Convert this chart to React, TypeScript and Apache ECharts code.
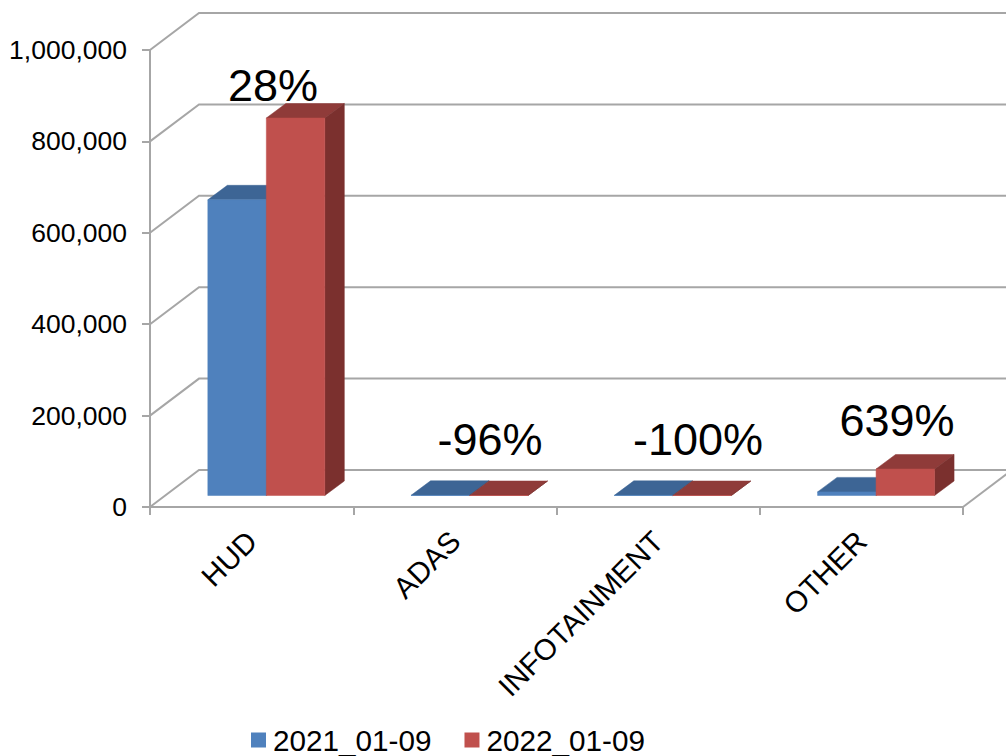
import React, { useEffect, useRef } from "react";
import * as echarts from "echarts";

const categories = ["HUD", "ADAS", "INFOTAINMENT", "OTHER"];
const seriesNames = ["2021_01-09", "2022_01-09"];
const values2021 = [647000, 400, 300, 7900];
const values2022 = [826000, 16, 0, 58000];
const tickValues = [0, 200000, 400000, 600000, 800000, 1000000];
const annotations = [
  { text: "28%", x: 273, y: 85 },
  { text: "-96%", x: 490, y: 439 },
  { text: "-100%", x: 698, y: 439 },
  { text: "639%", x: 897, y: 420 },
];

const FONT = '"Liberation Sans", Arial, sans-serif';
const GRID = "#a6a6a6";
const WALL_DX = 49;
const WALL_DY = 37;
const BAR_DX = 19.5;
const BAR_DY = 14.5;
const BASE_LIFT = 11.5;
const BAR_SHIFT = 14.7;
const BAR_WIDTH = 58.5;

const barRenderer = (side: number, front: string, top: string, right: string) => (_: any, api: any) => {
  const c = api.coord([api.value(0), api.value(1)]);
  const z = api.coord([api.value(0), 0]);
  const x0 = c[0] + BAR_SHIFT + (side < 0 ? -BAR_WIDTH : 0);
  const x1 = x0 + BAR_WIDTH;
  const yb = z[1] - BASE_LIFT;
  const yt = c[1] - BASE_LIFT;
  const face = (points: number[][], fill: string) => ({
    type: "polygon",
    shape: { points },
    style: { fill, stroke: fill, lineWidth: 0.5 },
  });
  return {
    type: "group",
    children: [
      face([[x0, yt], [x0 + BAR_DX, yt - BAR_DY], [x1 + BAR_DX, yt - BAR_DY], [x1, yt]], top),
      face([[x1, yt], [x1 + BAR_DX, yt - BAR_DY], [x1 + BAR_DX, yb - BAR_DY], [x1, yb]], right),
      face([[x0, yt], [x1, yt], [x1, yb], [x0, yb]], front),
    ],
  };
};

const wallRenderer = (_: any, api: any) => {
  const v = api.value(0);
  const band = api.size([1, 0])[0];
  const left = api.coord([0, v]);
  const lx = left[0] - band / 2;
  const y = left[1];
  const rx = api.coord([categories.length - 1, v])[0] + band / 2;
  const line = { stroke: GRID, lineWidth: 2, fill: "none" };
  const children: any[] = [
    {
      type: "polyline",
      shape: { points: [[lx, y], [lx + WALL_DX, y - WALL_DY], [rx + WALL_DX, y - WALL_DY]] },
      style: line,
    },
  ];
  if (v === 0) {
    children.push({
      type: "line",
      shape: { x1: rx, y1: y, x2: rx + WALL_DX, y2: y - WALL_DY },
      style: line,
    });
  }
  return { type: "group", children };
};

export default function App() {
  const ref = useRef<HTMLDivElement>(null);
  useEffect(() => {
    const chart = echarts.init(ref.current!, null, { renderer: "svg" });
    chart.setOption({
      animation: false,
      backgroundColor: "#ffffff",
      grid: { left: 150, right: 43, top: 50, bottom: 249 },
      legend: {
        data: seriesNames,
        left: 246,
        top: 720,
        icon: "rect",
        itemWidth: 15,
        itemHeight: 15,
        itemGap: 33,
        textStyle: { fontFamily: FONT, fontSize: 29.7, color: "#000", padding: [0, 0, 0, 2] },
      },
      xAxis: {
        type: "category",
        data: categories,
        axisLine: { lineStyle: { color: GRID, width: 2 } },
        axisTick: { show: true, length: 8, alignWithLabel: false, lineStyle: { color: GRID, width: 2 } },
        axisLabel: { rotate: 45, interval: 0, margin: 29, fontFamily: FONT, fontSize: 29.5, color: "#000" },
      },
      yAxis: {
        type: "value",
        min: 0,
        max: 1000000,
        interval: 200000,
        splitLine: { show: false },
        axisLine: { show: true, lineStyle: { color: GRID, width: 2 } },
        axisTick: { show: true, length: 8, lineStyle: { color: GRID, width: 2 } },
        axisLabel: {
          margin: 23,
          fontFamily: FONT,
          fontSize: 26.5,
          color: "#000",
          padding: [8, 0, 0, 0],
          formatter: (v: number) => v.toLocaleString("en-US"),
        },
      },
      series: [
        {
          type: "custom",
          name: "walls",
          silent: true,
          z: 1,
          clip: false,
          renderItem: wallRenderer,
          encode: { y: 0 },
          data: tickValues.map((v) => [v]),
        },
        {
          type: "custom",
          name: seriesNames[0],
          z: 3,
          clip: false,
          itemStyle: { color: "#4f81bd" },
          renderItem: barRenderer(-1, "#4f81bd", "#3d6595", "#2f4e73"),
          encode: { x: 0, y: 1 },
          data: values2021.map((v, i) => [i, v]),
        },
        {
          type: "custom",
          name: seriesNames[1],
          z: 4,
          clip: false,
          itemStyle: { color: "#c0504d" },
          renderItem: barRenderer(1, "#c0504d", "#8f3b39", "#7b302e"),
          encode: { x: 0, y: 1 },
          data: values2022.map((v, i) => [i, v]),
        },
      ],
      graphic: annotations.map((a) => ({
        type: "text",
        x: a.x,
        y: a.y,
        z: 10,
        style: {
          text: a.text,
          fontFamily: FONT,
          fontSize: 45,
          fill: "#000",
          textAlign: "center",
          textVerticalAlign: "middle",
        },
      })),
    });
    return () => chart.dispose();
  }, []);
  return <div ref={ref} style={{ position: "fixed", left: 0, top: 0, width: 1006, height: 756 }} />;
}
